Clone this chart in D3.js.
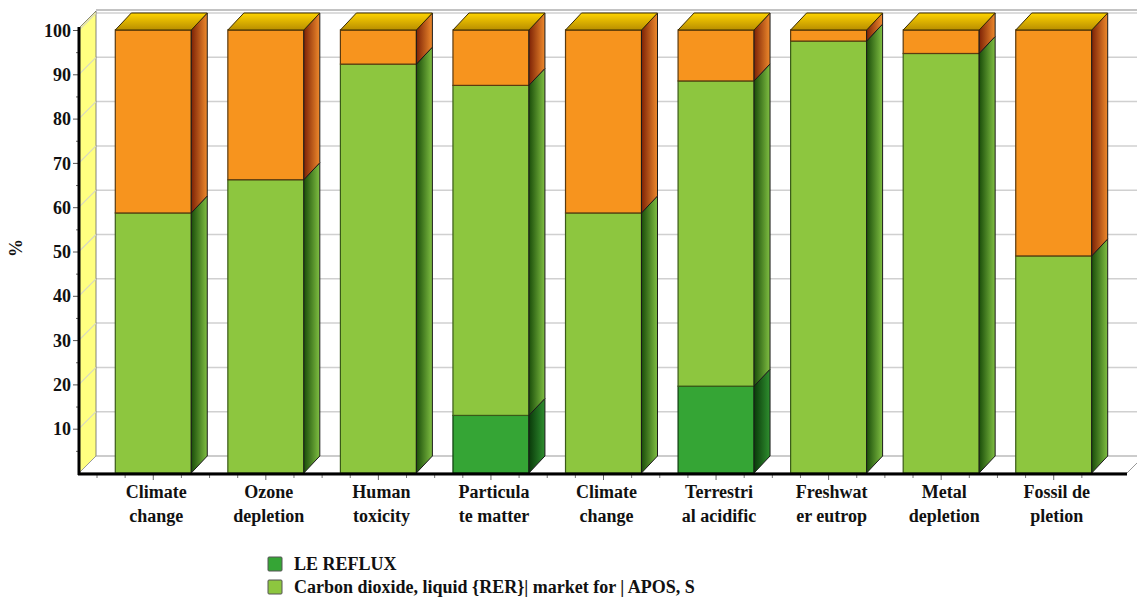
<!DOCTYPE html>
<html lang="en">
<head>
<meta charset="utf-8">
<title>Stacked 3D bars</title>
<script src="https://cdn.jsdelivr.net/npm/d3@7/dist/d3.min.js"></script>
<style>
  body { margin: 0; background: #fff; }
  text { font-family: "Liberation Serif", "Times New Roman", serif; font-weight: bold; }
</style>
</head>
<body>
<script>
// categories and their two-line tick labels
var categories = ["Climate change", "Ozone depletion", "Human toxicity", "Particulate matter",
                  "Climate change", "Terrestrial acidific", "Freshwater eutrop", "Metal depletion", "Fossil depletion"];
var labelLines = [["Climate", "change"], ["Ozone", "depletion"], ["Human", "toxicity"], ["Particula", "te matter"],
                  ["Climate", "change"], ["Terrestri", "al acidific"], ["Freshwat", "er eutrop"], ["Metal", "depletion"], ["Fossil de", "pletion"]];

// series values (%)
var leReflux = [0, 0, 0, 13, 0, 19.6, 0, 0, 0];
var carbonDioxide = [58.7, 66.2, 92.3, 74.5, 58.7, 68.9, 97.5, 94.7, 49.0];
var other = [41.3, 33.8, 7.7, 12.5, 41.3, 11.5, 2.5, 5.3, 51.0];

var seriesNames = ["LE REFLUX", "Carbon dioxide, liquid {RER}| market for | APOS, S", "Other"];
var yTicks = [10, 20, 30, 40, 50, 60, 70, 80, 90, 100];

var w = 1137, h = 599;
var dx = 17, dy = -17;     // depth offset
var left = 79, right = 1127;

var svg = d3.select("body").append("svg").attr("width", w).attr("height", h);
var defs = svg.append("defs");

function hGrad(id, c1, c2) {
  var g = defs.append("linearGradient").attr("id", id).attr("x1", 0).attr("x2", 1).attr("y1", 0).attr("y2", 0);
  g.append("stop").attr("offset", "0%").attr("stop-color", c1);
  g.append("stop").attr("offset", "100%").attr("stop-color", c2);
}
hGrad("sideDark", "#0a3a0a", "#2f8f2f");
hGrad("sideLight", "#1a4d0a", "#80bf42");
hGrad("sideOrange", "#7d2206", "#ef8a2c");
var tg = defs.append("linearGradient").attr("id", "topGold").attr("x1", 0).attr("x2", 0).attr("y1", 0).attr("y2", 1);
tg.append("stop").attr("offset", "0%").attr("stop-color", "#ffd400");
tg.append("stop").attr("offset", "100%").attr("stop-color", "#b88e00");

var frontColors = ["#35a535", "#8dc63f", "#f7941e"];
var sideFills = ["url(#sideDark)", "url(#sideLight)", "url(#sideOrange)"];
var edgeColors = ["#0d3d0d", "#3a5a18", "#5a3a10"];

var x = d3.scaleBand().domain(d3.range(categories.length)).range([97, 1110])
  .paddingInner(0.325).paddingOuter(0.1625);
var y = d3.scaleLinear().domain([0, 100]).range([473, 30]);

// back wall gridlines
svg.append("g").selectAll("line").data(yTicks).enter().append("line")
  .attr("x1", left + dx).attr("x2", w + 10)
  .attr("y1", function(d) { return y(d) + dy; })
  .attr("y2", function(d) { return y(d) + dy; })
  .attr("stroke", "#d0d0d0").attr("stroke-width", 1.5);
svg.append("line").attr("x1", left + dx).attr("x2", w).attr("y1", y(100) + dy - 3).attr("y2", y(100) + dy - 3)
  .attr("stroke", "#888").attr("stroke-width", 1.2);

// left (yellow) wall
svg.append("polygon")
  .attr("points", [[left, y(100) - 2], [left + dx, y(100) - 2 + dy], [left + dx, y(0) + dy], [left, y(0)]].join(" "))
  .attr("fill", "#ffff80").attr("stroke", "#666").attr("stroke-width", 0.8);
svg.append("g").selectAll("line").data(yTicks).enter().append("line")
  .attr("x1", left).attr("x2", left + dx)
  .attr("y1", function(d) { return y(d); })
  .attr("y2", function(d) { return y(d) + dy; })
  .attr("stroke", "#d8d8c0").attr("stroke-width", 1.2);

// floor
svg.append("polygon")
  .attr("points", [[left, y(0)], [right, y(0)], [right + dx, y(0) + dy], [left + dx, y(0) + dy]].join(" "))
  .attr("fill", "#fff").attr("stroke", "#999").attr("stroke-width", 1);

// bars
var stacks = categories.map(function(c, i) {
  var vals = [leReflux[i], carbonDioxide[i], other[i]];
  var y0 = 0, segs = [];
  vals.forEach(function(v, k) {
    if (v > 0) segs.push({ k: k, y0: y0, y1: y0 + v });
    y0 += v;
  });
  return { i: i, segs: segs, total: y0 };
});

var bw = x.bandwidth();
var bars = svg.append("g").selectAll("g").data(stacks).enter().append("g");

bars.each(function(s) {
  var g = d3.select(this);
  var x0 = x(s.i);
  g.selectAll("rect.front").data(s.segs).enter().append("rect")
    .attr("x", x0).attr("width", bw)
    .attr("y", function(d) { return y(d.y1); })
    .attr("height", function(d) { return y(d.y0) - y(d.y1); })
    .attr("fill", function(d) { return frontColors[d.k]; })
    .attr("stroke", function(d) { return edgeColors[d.k]; }).attr("stroke-width", 1.2);
  g.selectAll("polygon.side").data(s.segs).enter().append("polygon")
    .attr("points", function(d) {
      var xr = x0 + bw;
      return [[xr, y(d.y1)], [xr + dx - 1, y(d.y1) + dy], [xr + dx - 1, y(d.y0) + dy], [xr, y(d.y0)]].join(" ");
    })
    .attr("fill", function(d) { return sideFills[d.k]; })
    .attr("stroke", "#1a1a1a").attr("stroke-width", 1);
  g.append("polygon")
    .attr("points", [[x0, y(s.total)], [x0 + dx - 1, y(s.total) + dy], [x0 + bw + dx - 1, y(s.total) + dy], [x0 + bw, y(s.total)]].join(" "))
    .attr("fill", "url(#topGold)").attr("stroke", "#3a2a00").attr("stroke-width", 1);
});

// y axis
var yAxis = svg.append("g").attr("transform", "translate(" + left + ",0)")
  .call(d3.axisLeft(y).tickValues(yTicks).tickSize(6).tickPadding(2));
yAxis.select(".domain").remove();
yAxis.selectAll("text").attr("font-size", "18px").attr("fill", "#111").attr("font-family", null).attr("dy", "0.34em");
yAxis.selectAll("line").attr("stroke", "#555");
svg.append("g").attr("transform", "translate(" + left + ",0)")
  .call(d3.axisLeft(y).tickValues(d3.range(5, 100, 10)).tickSize(3).tickFormat(""))
  .call(function(g) { g.select(".domain").remove(); g.selectAll("line").attr("stroke", "#666"); });

// x axis
var xAxis = svg.append("g").attr("transform", "translate(0," + (y(0) + 1) + ")")
  .call(d3.axisBottom(x).tickSize(6).tickFormat(""));
xAxis.select(".domain").remove();
xAxis.selectAll("line").attr("stroke", "#666");
var minor = [];
categories.forEach(function(c, i) {
  var cx = x(i) + bw / 2;
  [-0.5, -0.25, 0.25].forEach(function(f) { minor.push(cx + f * x.step()); });
});
svg.append("g").selectAll("line").data(minor).enter().append("line")
  .attr("x1", function(d) { return d; }).attr("x2", function(d) { return d; })
  .attr("y1", y(0) + 1).attr("y2", y(0) + 5).attr("stroke", "#777");

svg.append("line").attr("x1", left).attr("x2", left).attr("y1", y(100) - 3).attr("y2", y(0) + 2)
  .attr("stroke", "#000").attr("stroke-width", 3);
svg.append("line").attr("x1", left - 1).attr("x2", right).attr("y1", y(0) + 1).attr("y2", y(0) + 1)
  .attr("stroke", "#000").attr("stroke-width", 3);

// category labels
var lab = svg.append("g").selectAll("text").data(labelLines).enter().append("text")
  .attr("text-anchor", "middle").attr("font-size", "18px").attr("fill", "#111")
  .attr("transform", function(d, i) { return "translate(" + (x(i) + bw / 2 + 3) + ",498)"; });
lab.selectAll("tspan").data(function(d) { return d; }).enter().append("tspan")
  .attr("x", 0).attr("y", function(d, j) { return j * 24; })
  .text(function(d) { return d; });

// y title
svg.append("text").attr("transform", "translate(22,248) rotate(-90)")
  .attr("text-anchor", "middle").attr("font-size", "18px").attr("fill", "#111").text("%");

// legend
var leg = svg.append("g").selectAll("g").data(seriesNames.slice(0, 2)).enter().append("g")
  .attr("transform", function(d, i) { return "translate(268," + (557 + i * 23) + ")"; });
leg.append("rect").attr("width", 14).attr("height", 14).attr("rx", 1)
  .attr("fill", function(d, i) { return frontColors[i]; })
  .attr("stroke", "#555").attr("stroke-width", 1);
leg.append("text").attr("x", 26).attr("y", 13).attr("font-size", "18px").attr("fill", "#111")
  .text(function(d) { return d; });
</script>
</body>
</html>
